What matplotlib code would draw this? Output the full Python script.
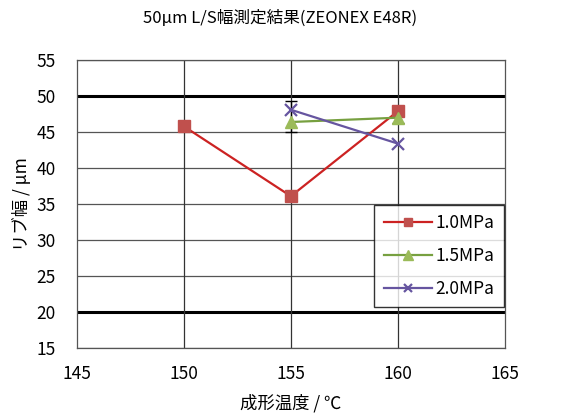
import matplotlib
matplotlib.use("Agg")
import matplotlib.pyplot as plt

plt.rcParams['font.family'] = ['Noto Sans CJK JP', 'DejaVu Sans']

temps_10 = [150, 155, 160]
width_10 = [45.8, 36.1, 47.9]
temps_15 = [155, 160]
width_15 = [46.4, 47.0]
err_15_low = [1.4, 0.8]
err_15_high = [2.9, 0.8]
temps_20 = [155, 160]
width_20 = [48.1, 43.4]

fig = plt.figure(figsize=(5.61, 4.17), dpi=100)
ax = fig.add_axes([0.137, 0.165, 0.763, 0.691])

ax.set_xlim(145, 165)
ax.set_ylim(15, 55)
ax.set_xticks([145, 150, 155, 160, 165])
ax.set_yticks(range(15, 56, 5))

for y in range(15, 56, 5):
    if y in (20, 50):
        ax.axhline(y, color='black', lw=2.2, zorder=1)
    else:
        ax.axhline(y, color='#555555', lw=0.9, zorder=1)
for x in (150, 155, 160):
    ax.axvline(x, color='#333333', lw=0.9, zorder=1)

for s in ax.spines.values():
    s.set_color('#555555')
    s.set_linewidth(0.9)
ax.tick_params(length=0, labelsize=12.5)
ax.tick_params(axis='x', pad=12)
ax.tick_params(axis='y', pad=15)

ax.errorbar(temps_15, width_15, yerr=[err_15_low, err_15_high], fmt='none',
            ecolor='black', elinewidth=1, capsize=4, zorder=2)
ax.plot(temps_10, width_10, color='#cc2222', lw=1.6, marker='s', ms=8,
        markerfacecolor='#c0504d', markeredgecolor='#c0504d', label='1.0MPa', zorder=3)
ax.plot(temps_15, width_15, color='#77a040', lw=1.6, marker='^', ms=9,
        markerfacecolor='#9bbb59', markeredgecolor='#9bbb59', label='1.5MPa', zorder=3)
ax.plot(temps_20, width_20, color='#6655a0', lw=1.6, marker='x', ms=8, mew=1.6,
        label='2.0MPa', zorder=4)

leg = ax.legend(loc='lower right', bbox_to_anchor=(0.998, 0.142), borderaxespad=0,
                fontsize=12.5, frameon=True, fancybox=False, borderpad=0.55,
                labelspacing=0.85, handlelength=2.8, handletextpad=0.2,
                markerscale=0.8)
leg.get_frame().set_edgecolor('black')
leg.get_frame().set_linewidth(1.0)

ax.set_xlabel('成形温度 / ℃', fontsize=12.5, labelpad=8)
ax.set_ylabel('リブ幅 / μm', fontsize=12.5, labelpad=4)
fig.text(0.50, 0.945, '50μm L/S幅測定結果(ZEONEX E48R)', ha='center', fontsize=12)

fig.savefig('out.png', dpi=100)
